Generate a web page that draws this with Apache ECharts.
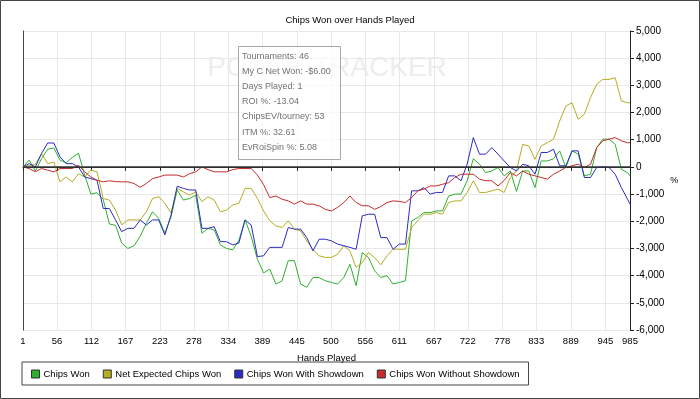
<!DOCTYPE html>
<html>
<head>
<meta charset="utf-8">
<title>Chips Won over Hands Played</title>
<script src="https://cdn.jsdelivr.net/npm/echarts@6/dist/echarts.min.js"></script>
<style>
  html, body { margin: 0; padding: 0; background: #fff; }
  #container { width: 700px; height: 399px; }
</style>
</head>
<body>
<div id="container"></div>
<script>
// hands sampled every 10 hands
var hands = [1, 11, 21, 31, 41, 51, 61, 71, 81, 91,
  101, 111, 121, 131, 141, 151, 161, 171, 181, 191,
  201, 211, 221, 231, 241, 251, 261, 271, 281, 291,
  301, 311, 321, 331, 341, 351, 361, 371, 381, 391,
  401, 411, 421, 431, 441, 451, 461, 471, 481, 491,
  501, 511, 521, 531, 541, 551, 561, 571, 581, 591,
  601, 611, 621, 631, 641, 651, 661, 671, 681, 691,
  701, 711, 721, 731, 741, 751, 761, 771, 781, 791,
  801, 811, 821, 831, 841, 851, 861, 871, 881, 891,
  901, 911, 921, 931, 941, 951, 961, 971, 981, 985];

var chipsWon = [0, 250, -150, 300, 650, 700, 250, 150, 350, 500,
  -300, -1000, -950, -1200, -2100, -2150, -2800, -3000, -2900, -2550,
  -2070, -1650, -1900, -2440, -1830, -850, -1220, -1160, -1040, -2440,
  -2260, -2320, -2870, -3000, -3050, -2700, -1950, -2560, -3400, -3900,
  -3760, -4310, -4190, -3450, -3450, -4310, -4430, -4070, -4070, -4190,
  -4250, -4310, -4070, -3580, -4370, -3150, -3330, -3820, -4070, -4000,
  -4310, -4250, -4190, -1990, -1860, -1680, -1680, -1620, -1620, -1070,
  -1000, -1000, -510, 300, 100, -210, -150, -20, -330, -150,
  -900, -150, -150, -760, 220, 220, 300, 590, -20, 590,
  470, -330, -270, 710, 1020, 1020, 830, -90, -210, -330];

var netExpected = [0, 50, 100, 490, 120, 180, -550, -370, -550, -250,
  -370, -120, -180, -1160, -1220, -1590, -2130, -1950, -1950, -1950,
  -1650, -1160, -1100, -1340, -1700, -790, -920, -1040, -920, -1280,
  -1100, -1220, -1650, -1590, -1400, -1340, -790, -790, -1160, -1620,
  -1980, -2170, -2230, -1980, -2290, -2350, -2720, -3030, -3270, -3330,
  -3330, -3210, -2900, -3090, -3700, -3520, -3150, -3330, -3600, -3270,
  -3030, -3030, -3030, -2230, -1980, -1740, -1740, -1680, -1740, -1310,
  -1250, -1250, -940, -510, -940, -940, -880, -820, -940, -390,
  -150, 830, 770, 280, 770, 890, 1020, 1690, 2240, 2360,
  1750, 1940, 2550, 3040, 3220, 3220, 3280, 2430, 2360, 2360];

var withShowdown = [0, 120, 0, 490, 880, 880, 370, 120, 120, 0,
  -370, -430, -490, -1530, -1530, -1950, -2380, -2260, -2260, -1950,
  -2140, -1950, -1950, -2500, -1770, -710, -790, -850, -850, -2260,
  -2260, -2200, -2750, -2750, -2870, -2800, -1950, -2140, -3300, -3270,
  -2960, -2960, -2960, -2230, -2290, -2290, -2600, -3090, -2660, -2660,
  -2720, -2840, -2900, -2960, -3030, -1800, -1740, -1740, -2600, -2600,
  -3030, -2840, -2840, -880, -880, -760, -1000, -940, -940, -330,
  -330, -510, 100, 1080, 470, 470, 710, 470, 220, -20,
  -150, 100, 40, -270, 530, 530, 650, 40, 40, 590,
  590, -390, -390, -20, 0, -20, -270, -760, -1190, -1370];

var withoutShowdown = [0, -60, -180, -60, -120, -180, -60, -60, -60, 60,
  -180, -370, -490, -550, -510, -540, -550, -550, -610, -750,
  -610, -430, -370, -300, -300, -300, -370, -250, -180, 0,
  -100, -180, -180, -180, -100, -60, -60, -60, -300, -650,
  -1130, -1070, -1190, -1250, -1370, -1250, -1370, -1370, -1430, -1560,
  -1620, -1490, -1310, -1070, -1310, -1430, -1430, -1560, -1460, -1310,
  -1250, -1270, -1310, -1130, -880, -820, -700, -700, -640, -580,
  -390, -270, -270, -270, -450, -510, -510, -700, -500, -210,
  -330, -150, -270, -330, -390, -450, -270, -150, -20, 40,
  100, -20, 100, 710, 960, 1020, 1080, 960, 890, 890];

var handTicks = [1, 56, 112, 167, 223, 278, 334, 389, 445, 500, 556, 611, 667, 722, 778, 833, 889, 945, 985];

var statLines = [
  'Tournaments: 46',
  'My C Net Won: -$6.00',
  'Days Played: 1',
  'ROI %: -13.04',
  'ChipsEV/tourney: 53',
  'ITM %: 32.61',
  'EvRoiSpin %: 5.08'
];

var font = 'Liberation Sans, Arial, sans-serif';
var colors = ['#2eaf2e', '#b3ad22', '#2b2bc4', '#c42b2b'];

function pairs(values) {
  return hands.map(function (h, i) { return [h, values[i]]; });
}

function lineSeries(name, values) {
  return {
    name: name,
    type: 'line',
    showSymbol: false,
    lineStyle: { width: 1 },
    data: pairs(values)
  };
}

var chart = echarts.init(document.getElementById('container'));

var series = [
  lineSeries('Chips Won', chipsWon),
  lineSeries('Net Expected Chips Won', netExpected),
  lineSeries('Chips Won With Showdown', withShowdown),
  lineSeries('Chips Won Without Showdown', withoutShowdown)
];
// black zero line
series[0].markLine = {
  silent: true,
  symbol: 'none',
  label: { show: false },
  lineStyle: { color: '#333', width: 1.5, type: 'solid' },
  data: [{ yAxis: 0 }]
};

var option = {
  animation: false,
  color: colors,
  textStyle: { fontFamily: font },
  title: {
    text: 'Chips Won over Hands Played',
    left: 'center',
    top: 10,
    textStyle: { fontSize: 9.5, fontWeight: 'normal', color: '#000', fontFamily: font }
  },
  grid: { left: 23, right: 70, top: 31, bottom: 69 },
  legend: {
    left: 22,
    top: 362,
    padding: [7, 9, 6, 9],
    itemGap: 13,
    itemWidth: 8,
    itemHeight: 8,
    icon: 'rect',
    borderColor: '#444',
    borderWidth: 1,
    itemStyle: { borderColor: '#333', borderWidth: 1 },
    textStyle: { fontSize: 9.5, color: '#000', fontFamily: font, padding: [0, 0, 0, -1] },
    data: ['Chips Won', 'Net Expected Chips Won', 'Chips Won With Showdown', 'Chips Won Without Showdown']
  },
  xAxis: {
    type: 'value',
    min: 1,
    max: 985,
    name: 'Hands Played',
    nameLocation: 'middle',
    nameGap: 23,
    nameTextStyle: { fontSize: 9.5, color: '#000', fontFamily: font },
    axisLine: { lineStyle: { color: '#222' } },
    axisTick: { length: 4, customValues: handTicks, lineStyle: { color: '#222' } },
    axisLabel: { customValues: handTicks, fontSize: 9.5, color: '#000', margin: 6, fontFamily: font },
    splitLine: { show: true, lineStyle: { color: '#e8e8e8' } }
  },
  yAxis: [
    {
      type: 'value',
      position: 'right',
      min: -6000,
      max: 5000,
      interval: 1000,
      name: '%',
      nameLocation: 'middle',
      nameGap: 38,
      nameRotate: 0,
      nameTextStyle: { fontSize: 9, color: '#000', fontFamily: font },
      axisLine: { show: true, lineStyle: { color: '#222' } },
      axisTick: { show: true, length: 4, lineStyle: { color: '#222' } },
      axisLabel: {
        fontSize: 10,
        color: '#000',
        margin: 6,
        fontFamily: font,
        formatter: function (v) { return v.toLocaleString('en-US'); }
      },
      splitLine: { show: true, lineStyle: { color: '#e8e8e8' } }
    },
    {
      type: 'value',
      position: 'left',
      min: -6000,
      max: 5000,
      axisLine: { show: true, lineStyle: { color: '#444' } },
      axisTick: { show: false },
      axisLabel: { show: false },
      splitLine: { show: false }
    }
  ],
  graphic: [
    {
      type: 'rect',
      silent: true,
      z: 0,
      shape: { x: 0.5, y: 0.5, width: 699, height: 398 },
      style: { fill: 'none', stroke: '#444', lineWidth: 1 }
    },
    {
      type: 'text',
      silent: true,
      z: 0,
      x: 327,
      y: 68,
      style: {
        text: 'POKER TRACKER',
        fill: '#ededed',
        font: '28px ' + font,
        textAlign: 'center',
        textVerticalAlign: 'middle'
      }
    },
    {
      type: 'rect',
      silent: true,
      z: 50,
      shape: { x: 238.5, y: 46.5, width: 102, height: 113 },
      style: { fill: 'rgba(255,255,255,0.75)', stroke: '#a8a8a8', lineWidth: 1 }
    },
    {
      type: 'text',
      silent: true,
      z: 51,
      x: 242,
      y: 48.5,
      style: {
        text: statLines.join('\n'),
        fill: '#737373',
        font: '9px ' + font,
        lineHeight: 15.2,
        textVerticalAlign: 'top'
      }
    }
  ],
  series: series
};

chart.setOption(option);
</script>
</body>
</html>
